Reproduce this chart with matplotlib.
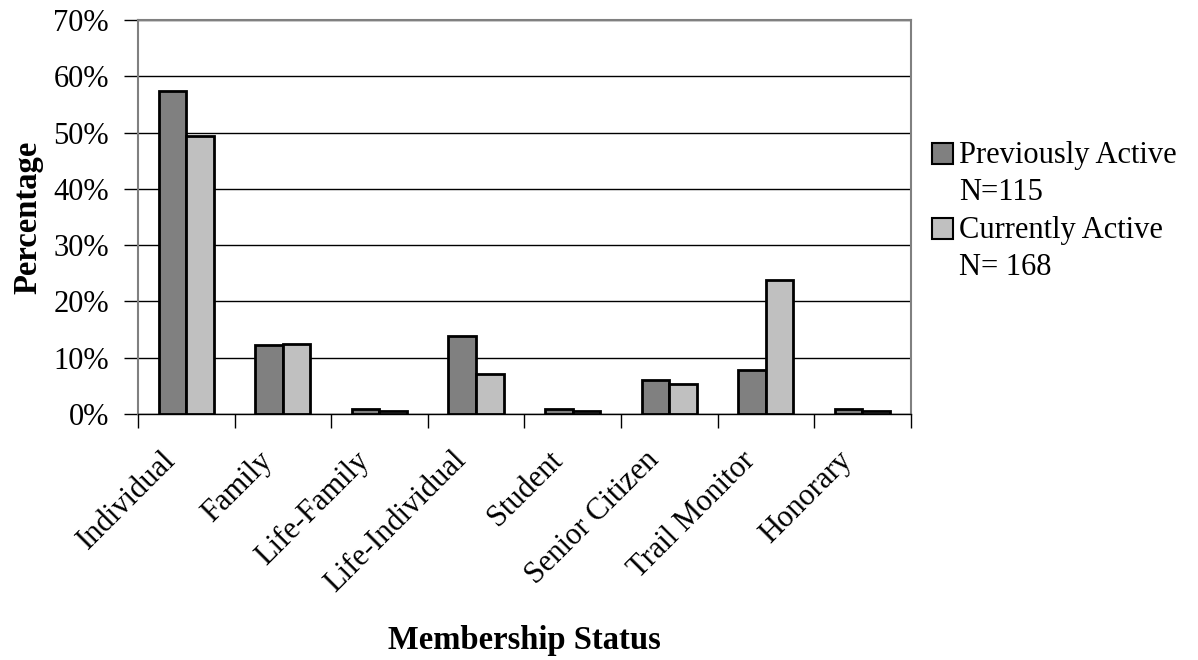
import numpy as np
import matplotlib.pyplot as plt
from matplotlib.patches import Rectangle
from matplotlib.transforms import ScaledTranslation
from matplotlib.ticker import PercentFormatter

plt.rcParams['font.family'] = ['Liberation Serif', 'DejaVu Serif']

# membership status by group (percent of each group)
categories = ["Individual", "Family", "Life-Family", "Life-Individual",
              "Student", "Senior Citizen", "Trail Monitor", "Honorary"]
previously_active = [57.4, 12.2, 0.9, 13.9, 0.9, 6.1, 7.8, 0.9]   # N=115
currently_active = [49.4, 12.5, 0.6, 7.1, 0.6, 5.4, 23.8, 0.6]    # N=168
series_names = ["Previously Active", "Currently Active"]
series_sizes = ["N=115", "N= 168"]
colors = ["#808080", "#c0c0c0"]

fs = 22
W, H = 1198, 660
fig = plt.figure(figsize=(W / 100, H / 100), dpi=100)
ax = fig.add_axes([0.1152, 0.3727, 0.645, 0.597])

x = np.arange(len(categories))
w = 1 / 3.5
ax.bar(x - w / 2, previously_active, w, color=colors[0], edgecolor="black",
       linewidth=2, zorder=3)
ax.bar(x + w / 2, currently_active, w, color=colors[1], edgecolor="black",
       linewidth=2, zorder=3)

ax.set_xlim(-0.5, len(categories) - 0.5)
ax.set_ylim(0, 70)
ax.set_yticks(np.arange(0, 71, 10))
ax.yaxis.set_major_formatter(PercentFormatter(decimals=0))
ax.yaxis.grid(True, color="black", linewidth=1, zorder=0)

# category ticks sit between groups; names hang below each group, slanted
ax.set_xticks(np.arange(-0.5, len(categories), 1))
ax.set_xticklabels([])
ax.tick_params(axis="x", length=10, width=1, direction="out")
ax.tick_params(axis="y", length=10, width=1, labelsize=fs, direction="out",
               pad=11)
offset = ScaledTranslation(-0.25, -0.32, fig.dpi_scale_trans)
for xi, cat in zip(x, categories):
    ax.text(xi, 0, cat, transform=ax.get_xaxis_transform() + offset,
            rotation=45, ha="right", va="top", rotation_mode="anchor",
            fontsize=fs)

for side in ["left", "right", "top", "bottom"]:
    ax.spines[side].set_color("#808080")
    ax.spines[side].set_linewidth(1.5)
ax.spines["bottom"].set_color("black")
ax.spines["bottom"].set_linewidth(1)

ax.set_ylabel("Percentage", fontsize=23.5, fontweight="bold", labelpad=7)
ax.set_xlabel("Membership Status", fontsize=23.5, fontweight="bold")
ax.xaxis.set_label_coords(0.5, -0.535)

# legend: swatch beside the first line of each two-line entry
for i, (name, size) in enumerate(zip(series_names, series_sizes)):
    top = 143 + i * 75
    fig.patches.append(Rectangle((932 / W, 1 - (top + 21) / H), 21 / W, 21 / H,
                                 transform=fig.transFigure, facecolor=colors[i],
                                 edgecolor="black", linewidth=1.5))
    fig.text(959 / W, 1 - (top + 20) / H, name, fontsize=fs, va="baseline")
    fig.text(959 / W, 1 - (top + 57) / H, size, fontsize=fs, va="baseline")

fig.savefig("out.png", dpi=100)
